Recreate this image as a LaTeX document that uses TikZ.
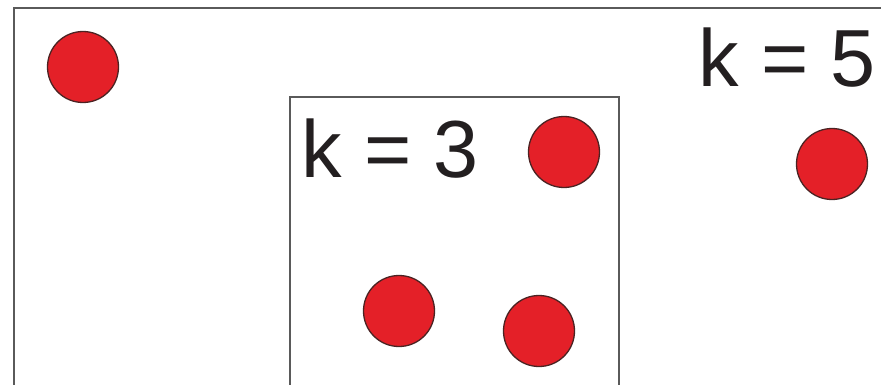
\documentclass[tikz,border=0pt]{standalone}
\usepackage{fontspec}
\setmainfont{Liberation Sans}
\definecolor{dotred}{RGB}{228,32,40}
\definecolor{dotedge}{RGB}{75,35,35}
\definecolor{framegray}{RGB}{90,90,90}
\definecolor{txt}{RGB}{35,31,32}
\begin{document}
\begin{tikzpicture}[x=1pt,y=-1pt,
  dot/.style={circle,fill=dotred,draw=dotedge,line width=1.3pt,minimum size=71pt,inner sep=0pt},
  lbl/.style={anchor=base west,inner sep=0pt,text=txt,font=\fontsize{81}{81}\selectfont},
  frame/.style={draw=framegray}]
\useasboundingbox (0,0) rectangle (881,385);
\fill[white] (0,0) rectangle (881,385);
% outer frame (k=5)
\draw[frame,line width=2.6pt] (14,390) -- (14,8) -- (890,8);
% inner frame (k=3)
\draw[frame,line width=1.6pt] (290,390) -- (290,97) -- (619,97) -- (619,390);
\node[lbl] (k3) at (301,178) {k = 3};
\node[lbl] (k5) at (698,87) {k = 5};
\node[dot] (d1) at (83,67) {};
\node[dot] (d2) at (564,152) {};
\node[dot] (d3) at (399,311) {};
\node[dot] (d4) at (539,331) {};
\node[dot] (d5) at (832,164) {};
\end{tikzpicture}
\end{document}
